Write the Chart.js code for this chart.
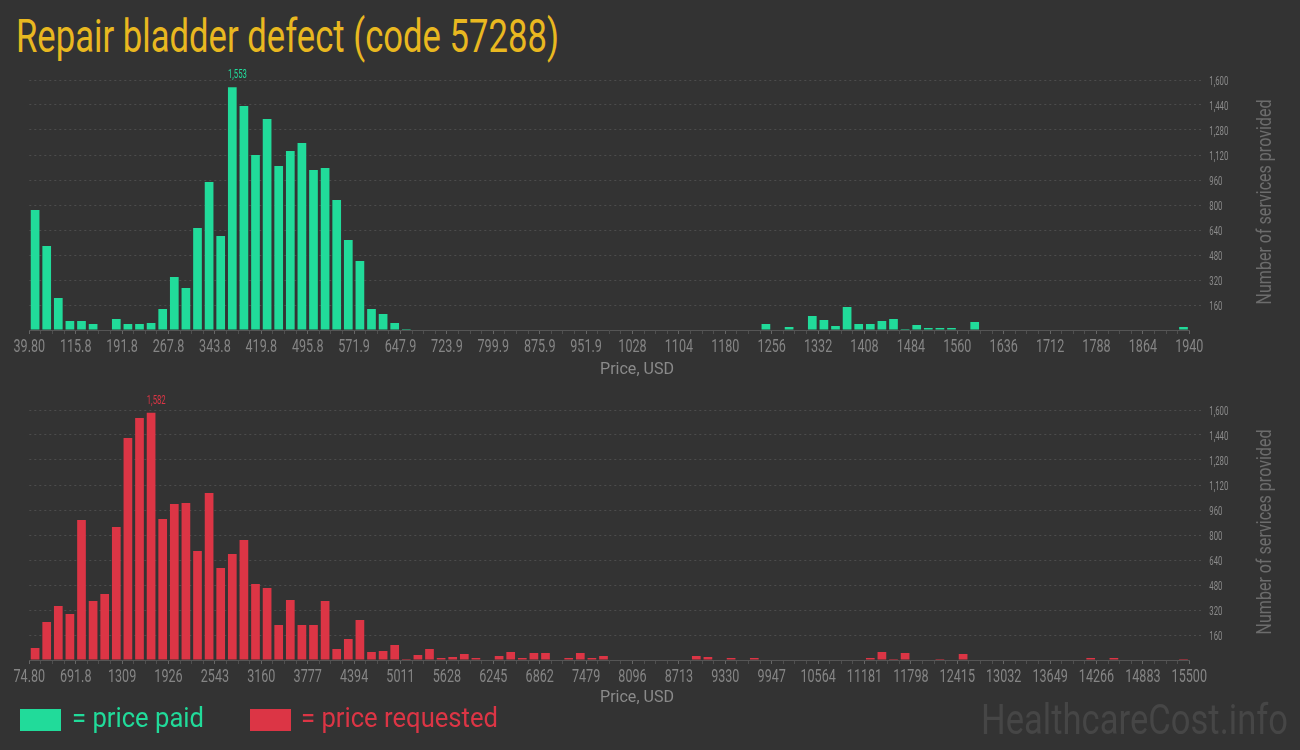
<!DOCTYPE html>
<html>
<head>
<meta charset="utf-8">
<script src="https://cdn.jsdelivr.net/npm/chart.js@4.4.1/dist/chart.umd.min.js"></script>
<style>
  html, body { margin:0; padding:0; background:#333333; width:1300px; height:750px; overflow:hidden; }
  .t { position:absolute; white-space:nowrap; font-family: Roboto, "Noto Sans", sans-serif; transform-origin: left top; }
  canvas { position:absolute; left:0; }
</style>
</head>
<body>
<div class="t" id="title" style="color:#E9B820">Repair bladder defect (code 57288)</div>
<canvas id="c1" width="1300" height="320" style="top:60px"></canvas>
<canvas id="c2" width="1300" height="320" style="top:390px"></canvas>
<div class="t" id="xt1" style="color:#8a8a8a">Price, USD</div>
<div class="t" id="xt2" style="color:#8a8a8a">Price, USD</div>
<div class="t" id="yt1" style="color:#6c6c6c">Number of services provided</div>
<div class="t" id="yt2" style="color:#6c6c6c">Number of services provided</div>
<div style="position:absolute;left:20px;top:709px;width:41px;height:22px;background:#21DB9A"></div>
<div class="t" id="lg1" style="color:#21DB9A">= price paid</div>
<div style="position:absolute;left:250px;top:709px;width:41px;height:22px;background:#DC3545"></div>
<div class="t" id="lg2" style="color:#DC3545">= price requested</div>
<div class="t" id="wm" style="color:#464646">HealthcareCost.info</div>
<script>
// ---- DATA ----
const paidTickLabels = ['39.80','115.8','191.8','267.8','343.8','419.8','495.8','571.9','647.9','723.9','799.9','875.9','951.9','1028','1104','1180','1256','1332','1408','1484','1560','1636','1712','1788','1864','1940'];
const requestedTickLabels = ['74.80','691.8','1309','1926','2543','3160','3777','4394','5011','5628','6245','6862','7479','8096','8713','9330','9947','10564','11181','11798','12415','13032','13649','14266','14883','15500'];

// number of services per price bin (100 bins each)
const paidCounts = [
  768,538,205,58,58,38,0,70,38,38,
  45,134,339,269,653,947,602,1553,1434,1120,
  1350,1050,1146,1197,1024,1037,832,576,442,134,
  102,45,6,0,0,0,0,0,0,0,
  0,0,0,0,0,0,0,0,0,0,
  0,0,0,0,0,0,0,0,0,0,
  0,0,0,38,0,19,0,90,64,26,
  147,38,38,58,70,6,32,13,13,13,
  0,51,0,0,0,0,0,0,0,0,
  0,0,0,0,0,0,0,0,0,19
];
const requestedCounts = [
  77,243,346,294,896,378,422,851,1421,1549,
  1582,902,998,1005,698,1069,589,678,768,486,
  461,224,384,224,224,378,70,134,256,51,
  58,96,6,32,70,13,19,38,13,0,
  26,51,13,45,45,0,13,45,13,26,
  0,0,0,0,0,0,0,26,19,0,
  13,0,13,0,0,0,0,0,0,0,
  0,0,13,51,6,45,0,0,6,0,
  38,0,0,0,0,0,0,0,0,0,
  0,13,0,13,0,0,0,0,0,6
];

const GREEN = '#21DB9A';
const RED = '#DC3545';
const FONT = 'Roboto, "Noto Sans", sans-serif';
const CONDENSE = 0.68;

// ---- text placement helpers (layout only) ----
function place(id, fs, left, baseline, width) {
  const el = document.getElementById(id);
  el.style.fontSize = fs + 'px';
  el.style.lineHeight = fs + 'px';
  el.style.left = left + 'px';
  el.style.top = (baseline - 0.8415 * fs) + 'px';
  const w = el.getBoundingClientRect().width;
  el.style.transform = 'scaleX(' + (width / w) + ')';
}
function placeCenter(id, fs, cx, baseline, width) {
  place(id, fs, cx - width / 2, baseline, width);
}
function placeRot(id, fs, cx, cy, len) {
  const el = document.getElementById(id);
  el.style.fontSize = fs + 'px';
  el.style.lineHeight = fs + 'px';
  const w = el.getBoundingClientRect().width;
  el.style.left = cx + 'px';
  el.style.top = cy + 'px';
  el.style.transformOrigin = 'center center';
  el.style.transform = 'translate(-50%,-50%) rotate(-90deg) scaleX(' + (len / w) + ')';
}

function condensedText(ctx, text, x, y, size, color, align, sx) {
  ctx.save();
  ctx.translate(x, y);
  ctx.scale(sx, 1);
  ctx.font = size + 'px ' + FONT;
  ctx.fillStyle = color;
  ctx.textAlign = align;
  ctx.textBaseline = 'alphabetic';
  ctx.fillText(text, 0, 0);
  ctx.restore();
}

// draws the axes' own tick labels (from scale.ticks) in a condensed face
const condensedTicks = {
  id: 'condensedTicks',
  afterDraw(chart) {
    const ctx = chart.ctx;
    const xs = chart.scales.x, ys = chart.scales.y;
    xs.ticks.forEach((t, i) => {
      if (!t.label) return;
      condensedText(ctx, t.label, xs.getPixelForTick(i), xs.top + 22, 18.5, '#858585', 'center', CONDENSE);
    });
    ys.ticks.forEach((t, i) => {
      if (!t.label) return;
      condensedText(ctx, t.label, chart.chartArea.right + 20, ys.getPixelForTick(i) + 4.5, 12.5, '#8a8a8a', 'left', 0.62);
    });
  }
};

const peakLabel = {
  id: 'peakLabel',
  afterDatasetsDraw(chart, args, opts) {
    const ds = chart.data.datasets[0];
    const vals = ds.data.map(d => d.y);
    const mx = Math.max(...vals);
    const i = vals.indexOf(mx);
    const bar = chart.getDatasetMeta(0).data[i];
    condensedText(chart.ctx, mx.toLocaleString('en-US'), bar.x - bar.width / 2, bar.y - 9, 12.5, opts.color, 'left', 0.62);
  }
};

function makeChart(id, counts, tickLabels, color) {
  const data = counts.map((v, i) => ({ x: i + 0.5, y: v }));
  return new Chart(document.getElementById(id), {
    type: 'bar',
    data: { datasets: [{ data, backgroundColor: color, borderWidth: 0, barPercentage: 0.75, categoryPercentage: 1 }] },
    plugins: [peakLabel, condensedTicks],
    options: {
      responsive: false,
      animation: false,
      events: [],
      layout: { padding: { left: 29.3, top: 20, right: 0, bottom: 0 } },
      plugins: { legend: { display: false }, tooltip: { enabled: false }, peakLabel: { color } },
      scales: {
        x: {
          type: 'linear', min: 0, max: counts.length, offset: false,
          afterBuildTicks: s => { s.ticks = Array.from({ length: counts.length + 1 }, (_, i) => ({ value: i })); },
          afterFit: s => { s.height = 50; },
          ticks: {
            autoSkip: false, maxRotation: 0, minRotation: 0, padding: 2,
            color: 'rgba(0,0,0,0)', font: { family: FONT, size: 12 },
            callback: v => (v % 4 === 0 ? tickLabels[v / 4] : '')
          },
          grid: {
            drawOnChartArea: false, offset: false, tickLength: 4,
            tickColor: c => (c.tick && c.tick.value % 4 === 0 ? '#666666' : '#4f4f4f')
          },
          border: { color: '#555555', width: 1 }
        },
        y: {
          position: 'right', min: 0, max: 1600,
          afterBuildTicks: s => { const t = []; for (let v = 0; v <= 1600; v += 160) t.push({ value: v }); s.ticks = t; },
          afterFit: s => { s.width = 1300 - 1189.3; },
          ticks: {
            padding: 5, color: 'rgba(0,0,0,0)', font: { family: FONT, size: 11 },
            callback: v => (v === 0 ? '' : v.toLocaleString('en-US'))
          },
          grid: {
            color: c => (c.tick && c.tick.value === 0 ? 'rgba(0,0,0,0)' : '#4c4c4c'),
            tickColor: c => (c.tick && c.tick.value === 0 ? 'rgba(0,0,0,0)' : '#4c4c4c'),
            tickLength: 14, tickBorderDash: [2, 3]
          },
          border: { display: false, dash: [2, 3] }
        }
      }
    }
  });
}

makeChart('c1', paidCounts, paidTickLabels, GREEN);
makeChart('c2', requestedCounts, requestedTickLabels, RED);

place('title', 46, 16, 52, 543);
placeCenter('xt1', 16, 637, 374, 74);
placeCenter('xt2', 16, 637, 702, 74);
placeRot('yt1', 20, 1264, 201.5, 205);
placeRot('yt2', 20, 1264, 531.5, 205);
place('lg1', 28, 72, 728, 132);
place('lg2', 28, 301, 728, 197);
place('wm', 42, 981, 734, 307);
</script>
</body>
</html>
